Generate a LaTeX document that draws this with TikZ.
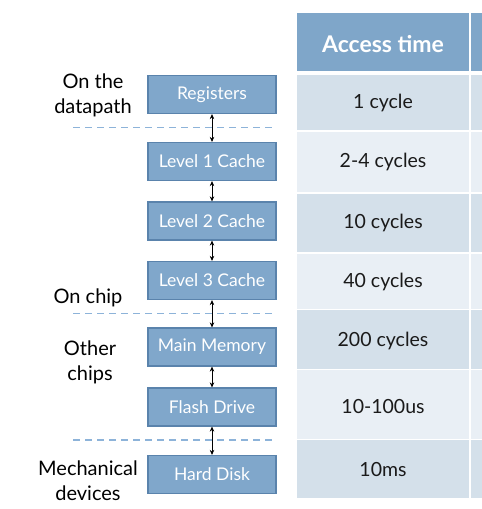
\documentclass[tikz,border=0pt]{standalone}
\usepackage{fontspec}
\setmainfont{Lato}
\usetikzlibrary{arrows.meta}
\definecolor{hdr}{HTML}{7FA6C9}
\definecolor{boxfill}{HTML}{80A7CB}
\definecolor{boxedge}{HTML}{5A83AC}
\definecolor{rowa}{HTML}{D4E0EA}
\definecolor{rowb}{HTML}{E9EFF5}
\definecolor{dashc}{HTML}{8DB3D9}
\definecolor{celltext}{HTML}{1A1A1A}
\begin{document}
\begin{tikzpicture}[x=1pt,y=-1pt,
  memb/.style={draw=boxedge, line width=1.2pt, fill=boxfill, text=white,
    minimum width=128pt, minimum height=38pt, inner sep=0pt,
    font=\fontsize{17.5}{17.5}\selectfont},
  lvl/.style={font=\fontsize{20}{25}\selectfont, align=center, text=black},
  cell/.style={font=\fontsize{19.5}{19.5}\selectfont, text=celltext},
  hcell/.style={font=\fontsize{23}{23}\selectfont\bfseries, text=white},
  sep/.style={draw=dashc, line width=1.3pt, dash pattern=on 7pt off 5pt},
  link/.style={{Stealth[length=5pt,width=4.5pt]}-{Stealth[length=5pt,width=4.5pt]}, line width=0.8pt}
]
\useasboundingbox (0,0) rectangle (482,509);
% table background
\fill[hdr]  (297,13) rectangle (482,71);
\fill[rowa] (297,75) rectangle (482,130);
\fill[rowb] (297,131.5) rectangle (482,192);
\fill[rowa] (297,193.5) rectangle (482,252);
\fill[rowb] (297,253.5) rectangle (482,308.5);
\fill[rowa] (297,310) rectangle (482,368.5);
\fill[rowb] (297,370) rectangle (482,438.5);
\fill[rowa] (297,440) rectangle (482,498);
\fill[white] (468.5,13) rectangle (470.5,498);
% table text
\node[hcell] (th) at (383,44) {Access time};
\node[cell] (t1) at (383,103) {1 cycle};
\node[cell] (t2) at (383,162) {2-4 cycles};
\node[cell] (t3) at (383,223) {10 cycles};
\node[cell] (t4) at (383,281.5) {40 cycles};
\node[cell] (t5) at (383,340.5) {200 cycles};
\node[cell] (t6) at (383,406.5) {10-100us};
\node[cell] (t7) at (383,469.5) {10ms};
% dashed separators
\draw[sep] (73,127.5) -- (275,127.5);
\draw[sep] (73,313.5) -- (275,313.5);
\draw[sep] (73,440) -- (275,440);
% memory boxes
\node[memb] (reg) at (212,94.5) {Registers};
\node[memb] (l1) at (212,161.5) {Level 1 Cache};
\node[memb] (l2) at (212,221) {Level 2 Cache};
\node[memb] (l3) at (212,280.5) {Level 3 Cache};
\node[memb] (mm) at (212,347) {Main Memory};
\node[memb] (fd) at (212,407) {Flash Drive};
\node[memb] (hd) at (212,474.5) {Hard Disk};
% arrows
\draw[link] (reg.south) -- (l1.north);
\draw[link] (l1.south) -- (l2.north);
\draw[link] (l2.south) -- (l3.north);
\draw[link] (l3.south) -- (mm.north);
\draw[link] (mm.south) -- (fd.north);
\draw[link] (fd.south) -- (hd.north);
% level labels
\node[lvl] (la) at (93,95) {On the\\datapath};
\node[lvl] (lb) at (88,297.5) {On chip};
\node[lvl] (lc) at (90,362) {Other\\chips};
\node[lvl] (ld) at (88,480.5) {Mechanical\\devices};
\end{tikzpicture}
\end{document}
